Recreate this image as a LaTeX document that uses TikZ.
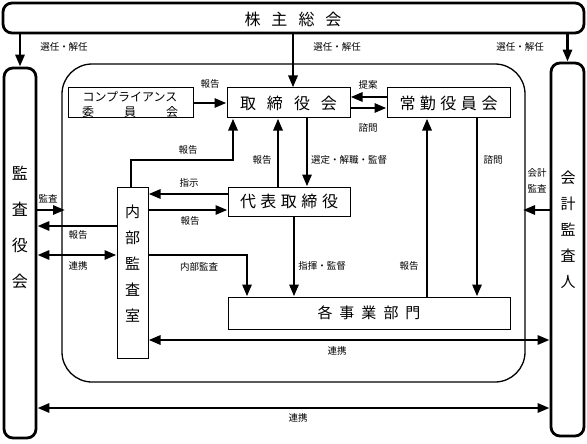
\documentclass[tikz,border=0pt]{standalone}
\usepackage{fontspec}
\setmainfont{Noto Sans CJK JP}
\usetikzlibrary{arrows.meta}
\newcommand\gp[1]{\hspace{#1pt}}
\begin{document}
\begin{tikzpicture}[x=1pt,y=-1pt,
  outerbox/.style={draw, line width=2.8pt, rounded corners=9pt, inner sep=0pt},
  box/.style={draw, line width=1pt, fill=white, inner sep=0pt, font=\fontsize{16}{18}\selectfont},
  arr/.style={line width=2.8pt, -{Triangle[length=12pt,width=9pt]}},
  darr/.style={line width=2.8pt, {Triangle[length=12pt,width=9pt]}-{Triangle[length=12pt,width=9pt]}},
  lbl/.style={font=\fontsize{9.5}{11}\selectfont, inner sep=0pt},
  big/.style={font=\fontsize{16}{18}\selectfont, inner sep=0pt}]
\useasboundingbox (0,0) rectangle (587,444);

% outer boxes
\node[outerbox, minimum width=581pt, minimum height=30pt] (kabu) at (293.5,18) {};
\node[big] at (293,19) {株\gp{11}主\gp{11}総\gp{11}会};
\node[outerbox, minimum width=32pt, minimum height=370pt] (kansa) at (20,253) {};
\node[big, align=center, font=\fontsize{16}{36}\selectfont] at (20,227) {監\\査\\役\\会};
\node[outerbox, minimum width=33pt, minimum height=373pt] (kaikei) at (567.5,249.5) {};
\node[big, align=center, font=\fontsize{15}{26}\selectfont] at (568,230) {会\\計\\監\\査\\人};

% inner region
\node[draw, line width=1.3pt, rounded corners=30pt, minimum width=463pt, minimum height=318pt, inner sep=0pt] (region) at (293.5,223) {};

% boxes
\node[box, minimum width=125pt, minimum height=30pt] (comp) at (130.5,103) {};
\node[inner sep=0pt, align=center, font=\fontsize{12}{15}\selectfont] at (130,104.5) {コンプライアンス\\\makebox[96pt][s]{委\hfill 員\hfill 会}};
\node[box, minimum width=123pt, minimum height=30pt] (tori) at (288.5,103) {取\gp{11}締\gp{11}役\gp{11}会};
\node[box, minimum width=123pt, minimum height=30pt] (joukin) at (448.5,103) {常\gp{4.5}勤\gp{4.5}役\gp{4.5}員\gp{4.5}会};
\node[box, minimum width=122pt, minimum height=29pt] (daihyo) at (289,201.5) {代\gp{4.5}表\gp{4.5}取\gp{4.5}締\gp{4.5}役};
\node[box, minimum width=31pt, minimum height=171pt] (naibu) at (132.5,272.5) {};
\node[big, align=center, font=\fontsize{15}{26}\selectfont] at (132.5,264) {内\\部\\監\\査\\室};
\node[box, minimum width=282pt, minimum height=32pt, font=\fontsize{15}{18}\selectfont] (jigyo) at (369,313) {各\gp{7}事\gp{7}業\gp{7}部\gp{7}門};

% free ends
\coordinate (kansaEnd) at (65,210);
\coordinate (kaikeiEnd) at (523,210);

% arrows from top
\draw[arr] (kabu.south -| kansa.north) -- (kansa.north);
\draw[arr] (kabu.south -| 293,0) -- (tori.north -| 293,0);
\draw[arr] (kabu.south -| kaikei.north) -- (kaikei.north);
\node[lbl] at (64,47) {選任・解任};
\node[lbl] at (337,47) {選任・解任};
\node[lbl] at (520,47) {選任・解任};

\draw[arr] (comp.east) -- (tori.west);
\node[lbl] at (210,84) {報告};
\draw[arr] (joukin.west |- 0,97) -- (tori.east |- 0,97);
\node[lbl] at (368,85) {提案};
\draw[arr] (tori.east |- 0,108) -- (joukin.west |- 0,108);
\node[lbl] at (368,128) {諮問};

\draw[arr] (daihyo.north -| 278,0) -- (tori.south -| 278,0);
\node[lbl] at (262,160) {報告};
\draw[arr] (tori.south -| 307,0) -- (daihyo.north -| 307,0);
\node[lbl, anchor=west] at (311,160) {選定・解職・監督};
\draw[arr] (naibu.north -| 131,0) -- (131,160) -| (tori.south -| 233,0);
\node[lbl] at (188,150) {報告};

\draw[arr] (daihyo.west |- 0,194) -- (naibu.east |- 0,194);
\node[lbl] at (189,183) {指示};
\draw[arr] (naibu.east |- 0,210) -- (daihyo.west |- 0,210);
\node[lbl] at (190,221) {報告};

\draw[arr] (kansa.east |- kansaEnd) -- (kansaEnd);
\node[lbl] at (48,199) {監査};
\draw[arr] (naibu.west |- 0,226) -- (kansa.east |- 0,226);
\node[lbl] at (78,235) {報告};
\draw[darr] (kansa.east |- 0,255) -- (naibu.west |- 0,255);
\node[lbl] at (78,266) {連携};

\draw[arr] (naibu.east |- 0,255) -| (jigyo.north -| 247,0);
\node[lbl] at (199,267) {内部監査};
\draw[arr] (daihyo.south -| 294,0) -- (jigyo.north -| 294,0);
\node[lbl] at (322,266) {指揮・監督};
\draw[arr] (jigyo.north -| 427,0) -- (joukin.south -| 427,0);
\node[lbl] at (409,266) {報告};
\draw[arr] (joukin.south -| 477,0) -- (jigyo.north -| 477,0);
\node[lbl] at (493,160) {諮問};

\draw[arr] (kaikei.west |- kaikeiEnd) -- (kaikeiEnd);
\node[lbl, align=center, font=\fontsize{9.5}{16}\selectfont] at (537,181) {会計\\監査};

\draw[darr] (naibu.east |- 0,340) -- (kaikei.west |- 0,340);
\node[lbl] at (337,351) {連携};
\draw[darr] (kansa.east |- 0,408) -- (kaikei.west |- 0,408);
\node[lbl] at (298,418) {連携};
\end{tikzpicture}
\end{document}
